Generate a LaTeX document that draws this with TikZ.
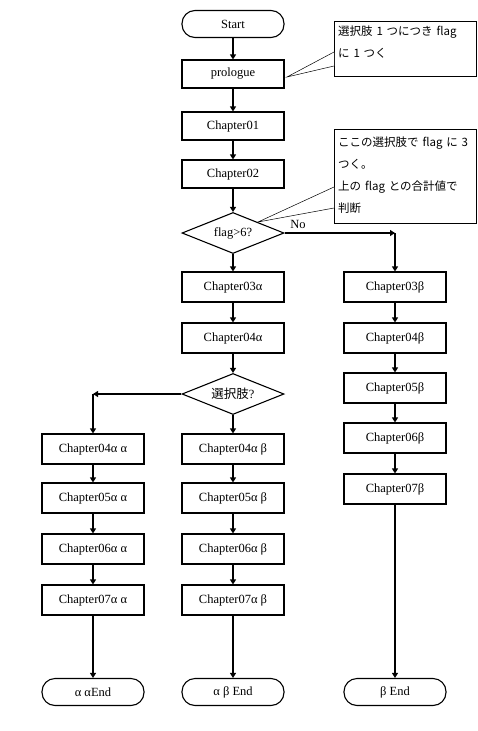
\documentclass[tikz,border=0pt]{standalone}
\usepackage{fontspec}
\setmainfont{Liberation Serif}
\newfontfamily\cjk{Noto Sans CJK JP}
\usetikzlibrary{shapes.geometric,arrows.meta}
\begin{document}
\begin{tikzpicture}[x=1pt,y=-1pt,
  every node/.style={font=\fontsize{12.5}{14}\selectfont},
  box/.style={draw,line width=1.1pt,minimum width=102pt,minimum height=30pt,inner sep=0pt},
  term/.style={draw,line width=1.1pt,minimum width=102pt,minimum height=27pt,rounded corners=13pt,inner sep=0pt},
  dia/.style={draw,line width=1.1pt,diamond,aspect=2.5,minimum width=102pt,minimum height=41pt,inner sep=0pt},
  notebox/.style={draw,line width=0.5pt,fill=white,anchor=north west,minimum width=142pt,inner sep=0pt},
  notetext/.style={align=left,anchor=north west,text width=136pt,inner sep=0pt,font=\fontsize{11.5}{22}\selectfont\cjk},
  flow/.style={line width=1.1pt,-{Triangle[width=6pt,length=5pt]}},
  thin/.style={line width=0.5pt}]
\useasboundingbox (0,0) rectangle (478,731);
\fill[white] (0,0) rectangle (478,731);
% main column
\node[term] (start) at (233,24) {Start};
\node[box,minimum height=28pt] (pro) at (233,74) {prologue};
\node[box,minimum height=28pt] (c01) at (233,126) {Chapter01};
\node[box,minimum height=28pt] (c02) at (233,174) {Chapter02};
\node[dia] (d1) at (233,233) {flag>6?};
\node[box] (c03a) at (233,287) {Chapter03α};
\node[box] (c04a) at (233,338) {Chapter04α};
\node[dia] (d2) at (233,394) {{\cjk 選択肢}?};
% left column
\node[box] (laa4) at (93,449) {Chapter04α α};
\node[box] (laa5) at (93,498) {Chapter05α α};
\node[box] (laa6) at (93,549) {Chapter06α α};
\node[box] (laa7) at (93,600) {Chapter07α α};
\node[term] (eaa) at (93,692) {α αEnd};
% middle column
\node[box] (lab4) at (233,449) {Chapter04α β};
\node[box] (lab5) at (233,498) {Chapter05α β};
\node[box] (lab6) at (233,549) {Chapter06α β};
\node[box] (lab7) at (233,600) {Chapter07α β};
\node[term] (eab) at (233,692) {α β End};
% right column
\node[box] (b3) at (395,287) {Chapter03β};
\node[box] (b4) at (395,338) {Chapter04β};
\node[box] (b5) at (395,388) {Chapter05β};
\node[box] (b6) at (395,438) {Chapter06β};
\node[box] (b7) at (395,489) {Chapter07β};
\node[term] (eb) at (395,692) {β End};
% corners
\coordinate (k1) at (395,233);
\coordinate (k2) at (93,394);
% connectors
\draw[flow] (start) -- (pro);
\draw[flow] (pro) -- (c01);
\draw[flow] (c01) -- (c02);
\draw[flow] (c02) -- (d1);
\draw[flow] (d1) -- (c03a);
\draw[flow] (c03a) -- (c04a);
\draw[flow] (c04a) -- (d2);
\draw[flow] (d2) -- (lab4);
\draw[flow] (lab4) -- (lab5);
\draw[flow] (lab5) -- (lab6);
\draw[flow] (lab6) -- (lab7);
\draw[flow] (lab7) -- (eab);
\draw[flow] (laa4) -- (laa5);
\draw[flow] (laa5) -- (laa6);
\draw[flow] (laa6) -- (laa7);
\draw[flow] (laa7) -- (eaa);
\draw[flow] (b3) -- (b4);
\draw[flow] (b4) -- (b5);
\draw[flow] (b5) -- (b6);
\draw[flow] (b6) -- (b7);
\draw[flow] (b7) -- (eb);
\draw[flow] (d1.east) -- (k1);
\draw[flow] (k1) -- (b3);
\draw[flow] (d2.west) -- (k2);
\draw[flow] (k2) -- (laa4);
\node (no) at (298,224) {No};
% callout 1
\node[notebox,minimum height=55pt] (n1) at (334,21) {};
\node[notetext] (t1) at (338,26) {選択肢 1 つにつき flag\\に 1 つく};
\coordinate (p1) at (287,77);
\coordinate (n1a) at (334,52);
\coordinate (n1b) at (334,66);
\fill[white] (n1a) -- (p1) -- (n1b) -- cycle;
\draw[thin] (n1a) -- (p1) -- (n1b);
% callout 2
\node[notebox,minimum height=94pt] (n2) at (334,129) {};
\node[notetext] (t2) at (338,137) {ここの選択肢で flag に 3\\つく。\\上の flag との合計値で\\判断};
\coordinate (p2) at (258,222);
\coordinate (n2a) at (334,187);
\coordinate (n2b) at (334,208);
\fill[white] (n2a) -- (p2) -- (n2b) -- cycle;
\draw[thin] (n2a) -- (p2) -- (n2b);
\end{tikzpicture}
\end{document}
